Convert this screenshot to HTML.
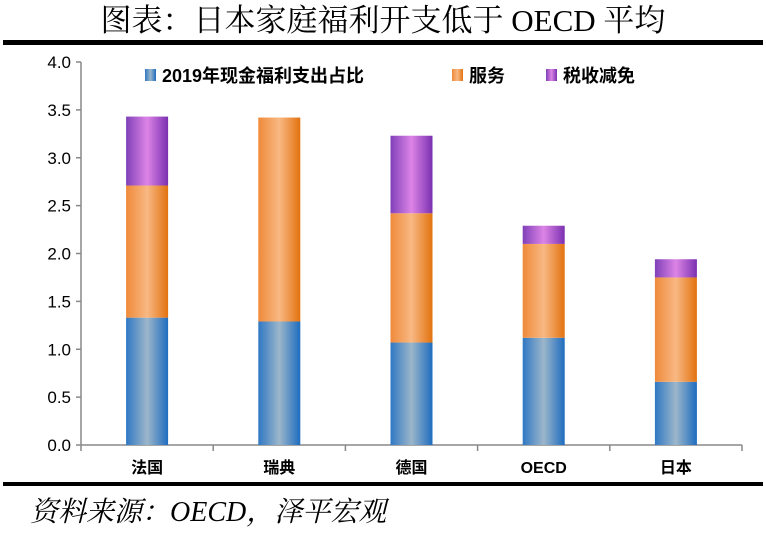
<!DOCTYPE html>
<html><head><meta charset="utf-8"><style>
body{margin:0;background:#fff;}
svg text{font-family:"Liberation Sans","Noto Sans CJK SC",sans-serif;}
</style></head><body>
<svg width="766" height="531" viewBox="0 0 766 531" xmlns="http://www.w3.org/2000/svg">
<defs>
<linearGradient id="gb" x1="0" x2="1" y1="0" y2="0"><stop offset="0" stop-color="#2f78c4"/><stop offset="0.5" stop-color="#9cb6ca"/><stop offset="1" stop-color="#1e6cbf"/></linearGradient>
<linearGradient id="go" x1="0" x2="1" y1="0" y2="0"><stop offset="0" stop-color="#ef8a3a"/><stop offset="0.5" stop-color="#f8b883"/><stop offset="1" stop-color="#e2720f"/></linearGradient>
<linearGradient id="gp" x1="0" x2="1" y1="0" y2="0"><stop offset="0" stop-color="#8040b8"/><stop offset="0.5" stop-color="#dc84e6"/><stop offset="1" stop-color="#7a30b0"/></linearGradient>
</defs>
<text x="383" y="31" text-anchor="middle" font-size="31" style="font-family:'Liberation Serif','Noto Serif CJK SC',serif">图表：日本家庭福利开支低于 OECD 平均</text>
<rect x="3" y="40" width="760" height="5" fill="#000"/>
<rect x="3" y="482" width="760" height="4" fill="#000"/>
<text x="30" y="521" font-size="28" font-style="italic" style="font-family:'Liberation Serif','Noto Serif CJK SC',serif">资料来源：OECD，泽平宏观</text>
<g id="axes"></g>
<g id="bars"></g>
<g id="legend"></g>
</svg>
<script>
const categories=["法国","瑞典","德国","OECD","日本"];
const cashValues=[1.33,1.29,1.07,1.12,0.66];
const serviceValues=[1.38,2.13,1.35,0.98,1.09];
const taxValues=[0.72,0,0.81,0.19,0.19];
const yTicks=["0.0","0.5","1.0","1.5","2.0","2.5","3.0","3.5","4.0"];
const seriesNames=["2019年现金福利支出占比","服务","税收减免"];
const NS="http://www.w3.org/2000/svg";
const X0=81,X1=742,Y0=445,YT=62,YMAX=4;
const y=v=>Y0-(v/YMAX)*(Y0-YT);
const bw=(X1-X0)/categories.length;
const xc=i=>X0+bw*(i+0.5);
function mk(tag,attrs,parent){const e=document.createElementNS(NS,tag);for(const k in attrs)e.setAttribute(k,attrs[k]);parent.appendChild(e);return e;}
const axes=document.getElementById('axes');
let a=mk('line',{x1:X0,x2:X0,y1:YT,y2:Y0,stroke:'#888','stroke-width':1.5},axes);

a=mk('line',{x1:X0,x2:X1,y1:Y0,y2:Y0,stroke:'#888','stroke-width':1.5},axes);

yTicks.forEach(t=>{const yy=y(parseFloat(t));
 const l=mk('line',{x1:X0-5,x2:X0,y1:yy,y2:yy,stroke:'#888','stroke-width':1.5},axes);
 
 const tx=mk('text',{x:X0-10,y:yy+6,'text-anchor':'end','font-size':17},axes);tx.textContent=t;
 });
for(let i=0;i<=categories.length;i++){const xx=X0+bw*i;
 const l=mk('line',{x1:xx,x2:xx,y1:Y0,y2:Y0+6,stroke:'#888','stroke-width':1.5},axes);
 }
categories.forEach((c,i)=>{const tx=mk('text',{x:xc(i),y:473,'text-anchor':'middle','font-size':16,'font-weight':'bold'},axes);tx.textContent=c;
 });
const bars=document.getElementById('bars');
const BW=42;
categories.forEach((c,i)=>{let base=0;
 [[cashValues,'url(#gb)','cash'],[serviceValues,'url(#go)','service'],[taxValues,'url(#gp)','tax']].forEach(([arr,fill,nm])=>{
  const v=arr[i];if(v>0){const r=mk('rect',{x:xc(i)-BW/2,y:y(base+v),width:BW,height:y(base)-y(base+v),fill:fill},bars);
  }
  base+=v;});});
const lg=document.getElementById('legend');
const lx=[145,452,546],fills=['url(#gb)','url(#go)','url(#gp)'];
seriesNames.forEach((s,i)=>{const r=mk('rect',{x:lx[i],y:69,width:11,height:12,fill:fills[i]},lg);
 
 const t=mk('text',{x:lx[i]+17,y:82,'font-size':18,'font-weight':'bold'},lg);t.textContent=s;
 });
</script>
</body></html>
